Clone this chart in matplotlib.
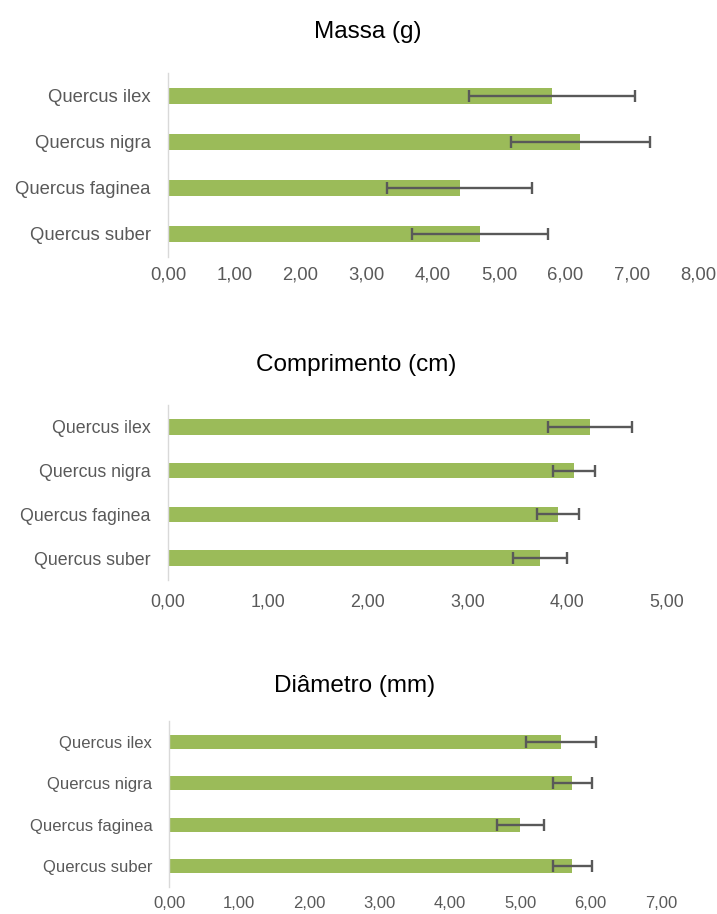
import matplotlib
matplotlib.use("Agg")
import matplotlib.pyplot as plt
from matplotlib.ticker import FuncFormatter

species = ["Quercus suber", "Quercus faginea", "Quercus nigra", "Quercus ilex"]

massa = [4.71, 4.40, 6.22, 5.80]
massa_err = [1.02, 1.10, 1.05, 1.25]

comprimento = [3.73, 3.91, 4.07, 4.23]
comprimento_err = [0.27, 0.21, 0.21, 0.42]

diametro = [5.74, 5.00, 5.74, 5.58]
diametro_err = [0.28, 0.33, 0.28, 0.50]

titles = ["Massa (g)", "Comprimento (cm)", "Diâmetro (mm)"]
xmaxes = [8, 5, 7]

plt.rcParams['font.family'] = ['Liberation Sans', 'DejaVu Sans']

W, H = 717, 914
fig = plt.figure(figsize=(W / 100, H / 100), dpi=100)

BAR = "#9BBB59"
ERR = "#595959"
TXT = "#595959"

# (left, right, top, bottom) in pixels, title (x, y), label sizes, pads
layouts = [
    dict(l=168, r=698, t=73, b=257, tx=368, ty=32, fs=13.3, xpad=6.5, ypad=12.5, bh=0.36),
    dict(l=168, r=667, t=405, b=580, tx=356, ty=365, fs=12.8, xpad=9.5, ypad=12.5, bh=0.35),
    dict(l=169, r=661, t=721, b=887, tx=355, ty=686, fs=12.0, xpad=6.5, ypad=12, bh=0.34),
]
data = [(massa, massa_err), (comprimento, comprimento_err), (diametro, diametro_err)]

fmt = FuncFormatter(lambda v, p: f"{v:.2f}".replace(".", ","))

for lay, (vals, errs), title, xmax in zip(layouts, data, titles, xmaxes):
    ax = fig.add_axes([lay['l'] / W, 1 - lay['b'] / H,
                       (lay['r'] - lay['l']) / W, (lay['b'] - lay['t']) / H])
    ypos = list(range(len(species)))
    ax.barh(ypos, vals, height=lay['bh'], color=BAR, zorder=2)
    ax.errorbar(vals, ypos, xerr=errs, fmt='none', ecolor=ERR, elinewidth=1.7,
                capsize=4.5, capthick=1.7, zorder=3)
    ax.set_xlim(0, xmax)
    ax.set_ylim(-0.5, len(species) - 0.5)
    ax.set_xticks(range(0, xmax + 1))
    ax.xaxis.set_major_formatter(fmt)
    ax.set_yticks(ypos)
    ax.set_yticklabels(species)
    for s in ['top', 'right', 'bottom']:
        ax.spines[s].set_visible(False)
    ax.spines['left'].set_color('#D9D9D9')
    ax.spines['left'].set_linewidth(1.0)
    ax.tick_params(axis='both', length=0, colors=TXT, labelsize=lay['fs'])
    ax.tick_params(axis='x', pad=lay['xpad'])
    ax.tick_params(axis='y', pad=lay['ypad'])
    fig.text(lay['tx'] / W, 1 - lay['ty'] / H, title, ha='center', va='center',
             fontsize=17.5, color='black')

fig.savefig("out.png", dpi=100)
